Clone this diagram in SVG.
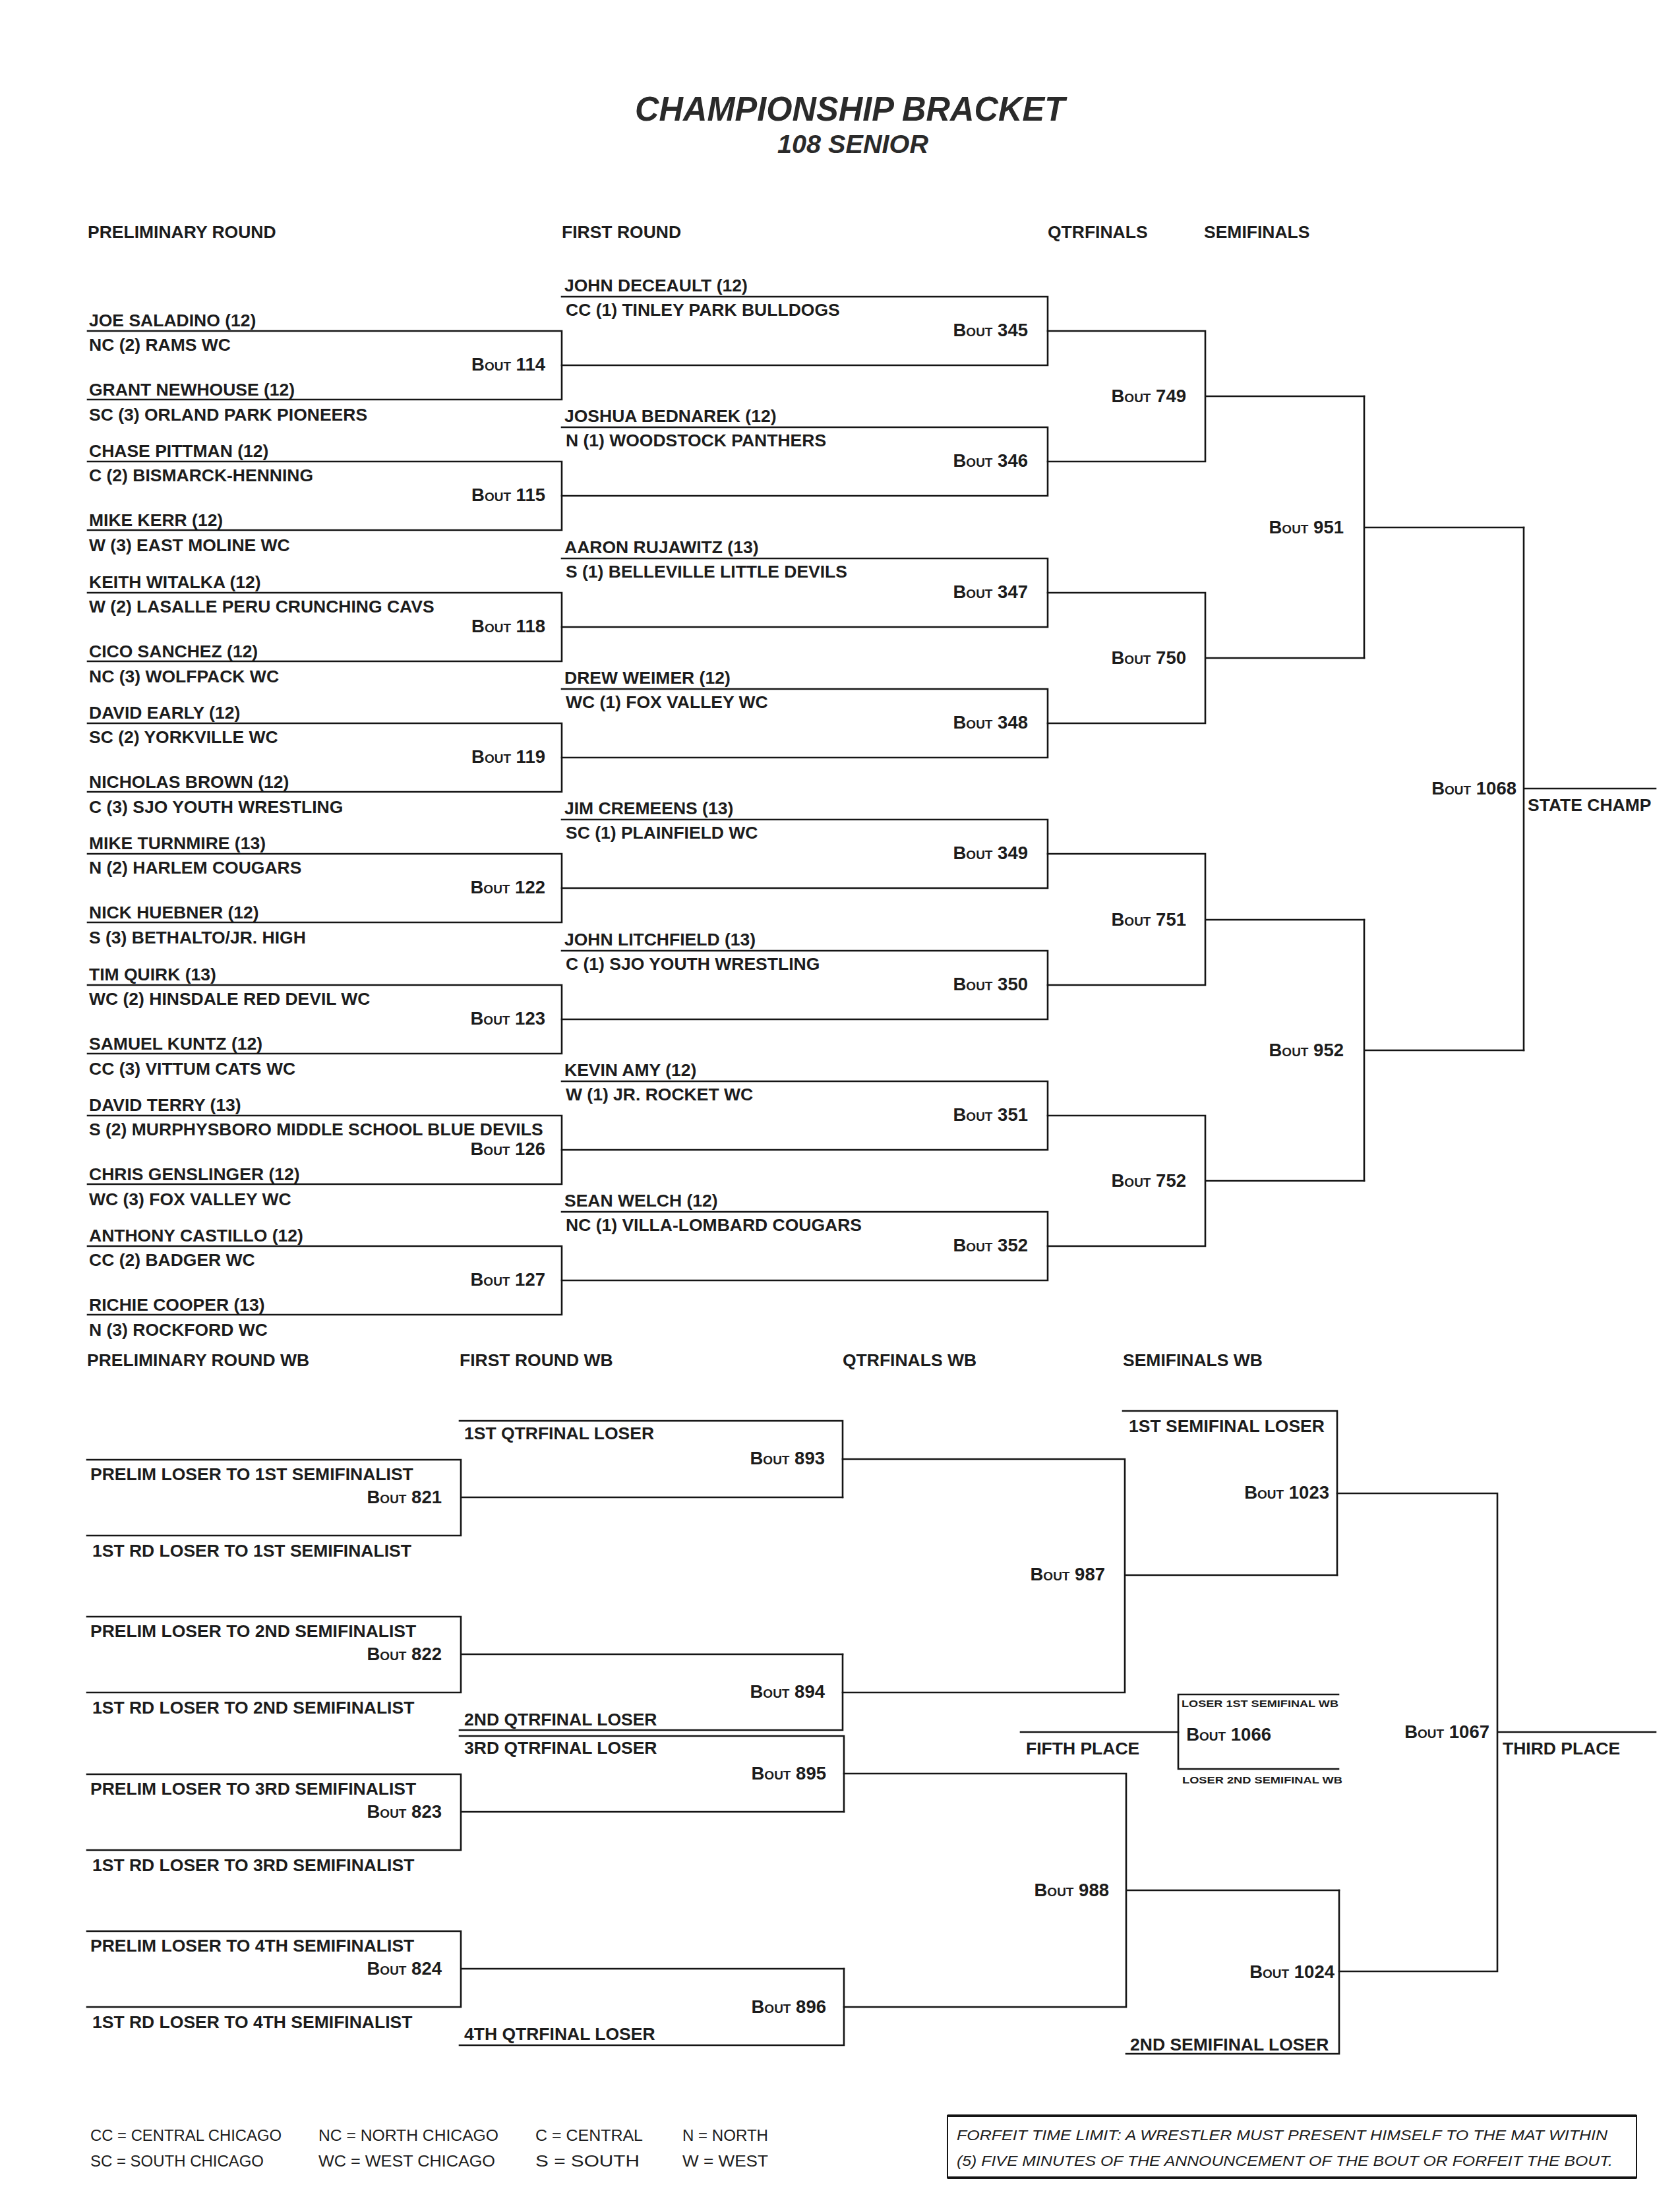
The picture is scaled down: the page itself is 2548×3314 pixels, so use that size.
<svg xmlns="http://www.w3.org/2000/svg" width="2548" height="3314" viewBox="0 0 2548 3314">
<style>
.ln{stroke:#151515;stroke-width:2.6;fill:none;stroke-linecap:square}
.t{font-family:"Liberation Sans",Arial,sans-serif;font-weight:bold;font-size:26.5px;fill:#1c1c1c}
.h{font-family:"Liberation Sans",Arial,sans-serif;font-weight:bold;font-size:26.5px;fill:#1c1c1c}
.b{font-family:"Liberation Sans",Arial,sans-serif;font-weight:bold;font-size:27.5px;font-variant:small-caps;fill:#1c1c1c;text-anchor:end}
.s{font-family:"Liberation Sans",Arial,sans-serif;font-weight:bold;font-size:15px;fill:#1c1c1c}
.lg{font-family:"Liberation Sans",Arial,sans-serif;font-size:23px;fill:#1c1c1c}
.ff{font-family:"Liberation Sans",Arial,sans-serif;font-style:italic;font-size:22.5px;fill:#1c1c1c}
.ti{font-family:"Liberation Sans",Arial,sans-serif;font-weight:bold;font-style:italic;fill:#2a2a2a}
</style>
<rect width="2548" height="3314" fill="#ffffff"/>
<g id="title">
<text class="ti" x="963" y="183" font-size="51" textLength="652" lengthAdjust="spacingAndGlyphs">CHAMPIONSHIP BRACKET</text>
<text class="ti" x="1179" y="232" font-size="39" textLength="229" lengthAdjust="spacingAndGlyphs">108 SENIOR</text>
</g>
<g id="headers">
<text class="h" x="133" y="361">PRELIMINARY ROUND</text>
<text class="h" x="852" y="361">FIRST ROUND</text>
<text class="h" x="1589" y="361">QTRFINALS</text>
<text class="h" x="1826" y="361">SEMIFINALS</text>
<text class="h" x="132" y="2072">PRELIMINARY ROUND WB</text>
<text class="h" x="697" y="2072">FIRST ROUND WB</text>
<text class="h" x="1278" y="2072">QTRFINALS WB</text>
<text class="h" x="1703" y="2072">SEMIFINALS WB</text>
</g>
<g id="connectors">
<path class="ln" d="M1589,502H1828V700H1589M1828,601H2069"/>
<path class="ln" d="M1589,899H1828V1097H1589M1828,998H2069"/>
<path class="ln" d="M1589,1295H1828V1494H1589M1828,1395H2069"/>
<path class="ln" d="M1589,1692H1828V1890H1589M1828,1791H2069"/>
<path class="ln" d="M2069,601V998M2069,800H2311"/>
<path class="ln" d="M2069,1395V1791M2069,1593H2311"/>
<path class="ln" d="M2311,800V1593M2311,1196H2511"/>
<path class="ln" d="M1278,2213H1706V2567H1278M1706,2389H2028"/>
<path class="ln" d="M1280,2690H1708V3044H1280M1708,2867H2031"/>
<path class="ln" d="M2028,2265H2271V2990H2031M2271,2627H2511"/>
<path class="ln" d="M1548,2627H1787"/>
</g>
<g id="bout114"><path class="ln" d="M133,502H852V606H133"/>
<text class="t" x="135" y="495">JOE SALADINO (12)</text><text class="t" x="135" y="532">NC (2) RAMS WC</text>
<text class="b" x="827" y="562">Bout 114</text>
<text class="t" x="135" y="600">GRANT NEWHOUSE (12)</text><text class="t" x="135" y="638">SC (3) ORLAND PARK PIONEERS</text></g>
<g id="bout115"><path class="ln" d="M133,700H852V804H133"/>
<text class="t" x="135" y="693">CHASE PITTMAN (12)</text><text class="t" x="135" y="730">C (2) BISMARCK-HENNING</text>
<text class="b" x="827" y="760">Bout 115</text>
<text class="t" x="135" y="798">MIKE KERR (12)</text><text class="t" x="135" y="836">W (3) EAST MOLINE WC</text></g>
<g id="bout118"><path class="ln" d="M133,899H852V1003H133"/>
<text class="t" x="135" y="892">KEITH WITALKA (12)</text><text class="t" x="135" y="929">W (2) LASALLE PERU CRUNCHING CAVS</text>
<text class="b" x="827" y="959">Bout 118</text>
<text class="t" x="135" y="997">CICO SANCHEZ (12)</text><text class="t" x="135" y="1035">NC (3) WOLFPACK WC</text></g>
<g id="bout119"><path class="ln" d="M133,1097H852V1201H133"/>
<text class="t" x="135" y="1090">DAVID EARLY (12)</text><text class="t" x="135" y="1127">SC (2) YORKVILLE WC</text>
<text class="b" x="827" y="1157">Bout 119</text>
<text class="t" x="135" y="1195">NICHOLAS BROWN (12)</text><text class="t" x="135" y="1233">C (3) SJO YOUTH WRESTLING</text></g>
<g id="bout122"><path class="ln" d="M133,1295H852V1399H133"/>
<text class="t" x="135" y="1288">MIKE TURNMIRE (13)</text><text class="t" x="135" y="1325">N (2) HARLEM COUGARS</text>
<text class="b" x="827" y="1355">Bout 122</text>
<text class="t" x="135" y="1393">NICK HUEBNER (12)</text><text class="t" x="135" y="1431">S (3) BETHALTO/JR. HIGH</text></g>
<g id="bout123"><path class="ln" d="M133,1494H852V1598H133"/>
<text class="t" x="135" y="1487">TIM QUIRK (13)</text><text class="t" x="135" y="1524">WC (2) HINSDALE RED DEVIL WC</text>
<text class="b" x="827" y="1554">Bout 123</text>
<text class="t" x="135" y="1592">SAMUEL KUNTZ (12)</text><text class="t" x="135" y="1630">CC (3) VITTUM CATS WC</text></g>
<g id="bout126"><path class="ln" d="M133,1692H852V1796H133"/>
<text class="t" x="135" y="1685">DAVID TERRY (13)</text><text class="t" x="135" y="1722">S (2) MURPHYSBORO MIDDLE SCHOOL BLUE DEVILS</text>
<text class="b" x="827" y="1752">Bout 126</text>
<text class="t" x="135" y="1790">CHRIS GENSLINGER (12)</text><text class="t" x="135" y="1828">WC (3) FOX VALLEY WC</text></g>
<g id="bout127"><path class="ln" d="M133,1890H852V1994H133"/>
<text class="t" x="135" y="1883">ANTHONY CASTILLO (12)</text><text class="t" x="135" y="1920">CC (2) BADGER WC</text>
<text class="b" x="827" y="1950">Bout 127</text>
<text class="t" x="135" y="1988">RICHIE COOPER (13)</text><text class="t" x="135" y="2026">N (3) ROCKFORD WC</text></g>
<g id="bout345"><path class="ln" d="M852,450H1589V554H852"/>
<text class="t" x="856" y="442">JOHN DECEAULT (12)</text><text class="t" x="858" y="479">CC (1) TINLEY PARK BULLDOGS</text>
<text class="b" x="1559" y="510">Bout 345</text></g>
<g id="bout346"><path class="ln" d="M852,648H1589V752H852"/>
<text class="t" x="856" y="640">JOSHUA BEDNAREK (12)</text><text class="t" x="858" y="677">N (1) WOODSTOCK PANTHERS</text>
<text class="b" x="1559" y="708">Bout 346</text></g>
<g id="bout347"><path class="ln" d="M852,847H1589V951H852"/>
<text class="t" x="856" y="839">AARON RUJAWITZ (13)</text><text class="t" x="858" y="876">S (1) BELLEVILLE LITTLE DEVILS</text>
<text class="b" x="1559" y="907">Bout 347</text></g>
<g id="bout348"><path class="ln" d="M852,1045H1589V1149H852"/>
<text class="t" x="856" y="1037">DREW WEIMER (12)</text><text class="t" x="858" y="1074">WC (1) FOX VALLEY WC</text>
<text class="b" x="1559" y="1105">Bout 348</text></g>
<g id="bout349"><path class="ln" d="M852,1243H1589V1347H852"/>
<text class="t" x="856" y="1235">JIM CREMEENS (13)</text><text class="t" x="858" y="1272">SC (1) PLAINFIELD WC</text>
<text class="b" x="1559" y="1303">Bout 349</text></g>
<g id="bout350"><path class="ln" d="M852,1442H1589V1546H852"/>
<text class="t" x="856" y="1434">JOHN LITCHFIELD (13)</text><text class="t" x="858" y="1471">C (1) SJO YOUTH WRESTLING</text>
<text class="b" x="1559" y="1502">Bout 350</text></g>
<g id="bout351"><path class="ln" d="M852,1640H1589V1744H852"/>
<text class="t" x="856" y="1632">KEVIN AMY (12)</text><text class="t" x="858" y="1669">W (1) JR. ROCKET WC</text>
<text class="b" x="1559" y="1700">Bout 351</text></g>
<g id="bout352"><path class="ln" d="M852,1838H1589V1942H852"/>
<text class="t" x="856" y="1830">SEAN WELCH (12)</text><text class="t" x="858" y="1867">NC (1) VILLA-LOMBARD COUGARS</text>
<text class="b" x="1559" y="1898">Bout 352</text></g>
<g id="bout749"><text class="b" x="1799" y="610">Bout 749</text></g>
<g id="bout750"><text class="b" x="1799" y="1007">Bout 750</text></g>
<g id="bout751"><text class="b" x="1799" y="1404">Bout 751</text></g>
<g id="bout752"><text class="b" x="1799" y="1800">Bout 752</text></g>
<g id="bout951"><text class="b" x="2038" y="809">Bout 951</text></g>
<g id="bout952"><text class="b" x="2038" y="1602">Bout 952</text></g>
<g id="bout1068"><text class="b" x="2300" y="1205">Bout 1068</text><text class="t" x="2317" y="1230">STATE CHAMP</text></g>
<g id="bout821"><path class="ln" d="M132,2214H699V2329H132M699,2271H1278"/>
<text class="t" x="137" y="2245">PRELIM LOSER TO 1ST SEMIFINALIST</text>
<text class="b" x="670" y="2280">Bout 821</text>
<text class="t" x="140" y="2361">1ST RD LOSER TO 1ST SEMIFINALIST</text></g>
<g id="bout822"><path class="ln" d="M132,2452H699V2567H132M699,2509H1278"/>
<text class="t" x="137" y="2483">PRELIM LOSER TO 2ND SEMIFINALIST</text>
<text class="b" x="670" y="2518">Bout 822</text>
<text class="t" x="140" y="2599">1ST RD LOSER TO 2ND SEMIFINALIST</text></g>
<g id="bout823"><path class="ln" d="M132,2691H699V2806H132M699,2748H1280"/>
<text class="t" x="137" y="2722">PRELIM LOSER TO 3RD SEMIFINALIST</text>
<text class="b" x="670" y="2757">Bout 823</text>
<text class="t" x="140" y="2838">1ST RD LOSER TO 3RD SEMIFINALIST</text></g>
<g id="bout824"><path class="ln" d="M132,2929H699V3044H132M699,2986H1280"/>
<text class="t" x="137" y="2960">PRELIM LOSER TO 4TH SEMIFINALIST</text>
<text class="b" x="670" y="2995">Bout 824</text>
<text class="t" x="140" y="3076">1ST RD LOSER TO 4TH SEMIFINALIST</text></g>
<g id="bout893"><path class="ln" d="M697,2155H1278V2271"/>
<text class="t" x="704" y="2183">1ST QTRFINAL LOSER</text>
<text class="b" x="1251" y="2221">Bout 893</text></g>
<g id="bout894"><path class="ln" d="M1278,2509V2624H697"/>
<text class="t" x="704" y="2617">2ND QTRFINAL LOSER</text>
<text class="b" x="1251" y="2575">Bout 894</text></g>
<g id="bout895"><path class="ln" d="M697,2633H1280V2748"/>
<text class="t" x="704" y="2660">3RD QTRFINAL LOSER</text>
<text class="b" x="1253" y="2699">Bout 895</text></g>
<g id="bout896"><path class="ln" d="M1280,2986V3102H697"/>
<text class="t" x="704" y="3094">4TH QTRFINAL LOSER</text>
<text class="b" x="1253" y="3053">Bout 896</text></g>
<g id="bout987"><text class="b" x="1676" y="2397">Bout 987</text></g>
<g id="bout988"><text class="b" x="1682" y="2876">Bout 988</text></g>
<g id="bout1023"><path class="ln" d="M1703,2140H2028V2389"/>
<text class="t" x="1712" y="2172">1ST SEMIFINAL LOSER</text>
<text class="b" x="2016" y="2273">Bout 1023</text></g>
<g id="bout1024"><path class="ln" d="M2031,2867V3115H1708"/>
<text class="t" x="1714" y="3110">2ND SEMIFINAL LOSER</text>
<text class="b" x="2024" y="3000">Bout 1024</text></g>
<g id="bout1066"><path class="ln" d="M2030,2570H1787V2683H2030"/>
<text class="s" x="1792" y="2589" textLength="238" lengthAdjust="spacingAndGlyphs">LOSER 1ST SEMIFINAL WB</text>
<text class="b" x="1928" y="2640">Bout 1066</text>
<text class="s" x="1793" y="2705" textLength="243" lengthAdjust="spacingAndGlyphs">LOSER 2ND SEMIFINAL WB</text>
<text class="t" x="1556" y="2661">FIFTH PLACE</text></g>
<g id="bout1067"><text class="b" x="2259" y="2636">Bout 1067</text><text class="t" x="2279" y="2661">THIRD PLACE</text></g>
<g id="legend">
<text class="lg" x="137" y="3247" textLength="290" lengthAdjust="spacingAndGlyphs">CC = CENTRAL CHICAGO</text>
<text class="lg" x="483" y="3247" textLength="273" lengthAdjust="spacingAndGlyphs">NC = NORTH CHICAGO</text>
<text class="lg" x="812" y="3247" textLength="163" lengthAdjust="spacingAndGlyphs">C = CENTRAL</text>
<text class="lg" x="1035" y="3247" textLength="130" lengthAdjust="spacingAndGlyphs">N = NORTH</text>
<text class="lg" x="137" y="3286" textLength="263" lengthAdjust="spacingAndGlyphs">SC = SOUTH CHICAGO</text>
<text class="lg" x="483" y="3286" textLength="268" lengthAdjust="spacingAndGlyphs">WC = WEST CHICAGO</text>
<text class="lg" x="812" y="3286" textLength="158" lengthAdjust="spacingAndGlyphs">S = SOUTH</text>
<text class="lg" x="1035" y="3286" textLength="130" lengthAdjust="spacingAndGlyphs">W = WEST</text>
</g>
<g id="forfeit">
<rect x="1437" y="3209" width="1045" height="94" fill="none" stroke="#151515" stroke-width="2"/>
<path d="M1437,3209H2482M1437,3303H2482" stroke="#151515" stroke-width="4"/>
<text class="ff" x="1451" y="3246" textLength="987" lengthAdjust="spacingAndGlyphs">FORFEIT TIME LIMIT: A WRESTLER MUST PRESENT HIMSELF TO THE MAT WITHIN</text>
<text class="ff" x="1451" y="3285" textLength="995" lengthAdjust="spacingAndGlyphs">(5) FIVE MINUTES OF THE ANNOUNCEMENT OF THE BOUT OR FORFEIT THE BOUT.</text>
</g>
</svg>
